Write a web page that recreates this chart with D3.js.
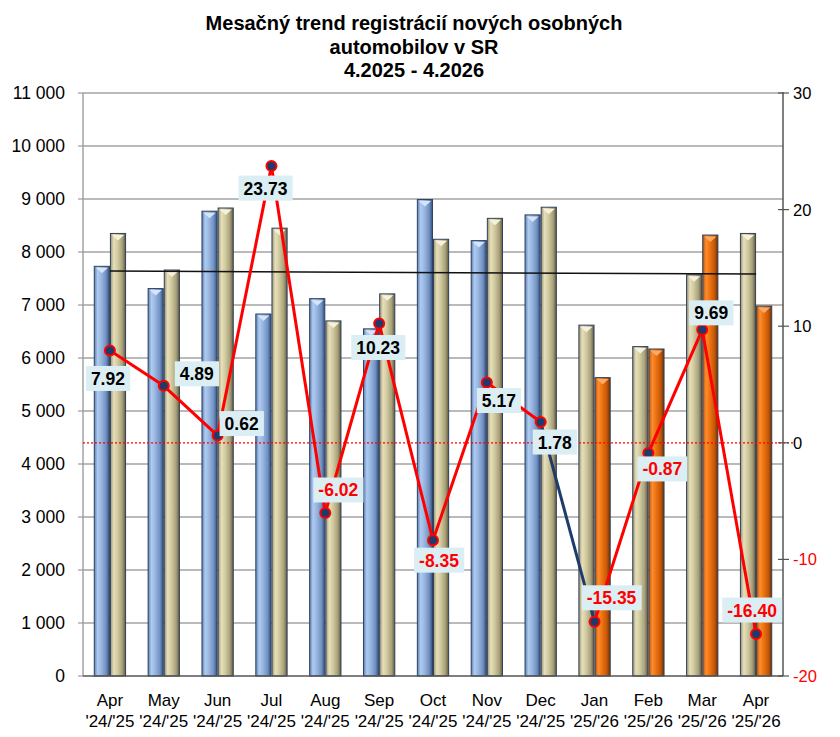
<!DOCTYPE html>
<html>
<head>
<meta charset="utf-8">
<script src="https://cdn.jsdelivr.net/npm/d3@7"></script>
<style>
  body { margin: 0; background: #fff; }
  text { font-family: Arial, "Liberation Sans", sans-serif; }
</style>
</head>
<body>
<svg id="chart" width="840" height="737"></svg>
<script>
// chart data
const months = ['Apr', 'May', 'Jun', 'Jul', 'Aug', 'Sep', 'Oct', 'Nov', 'Dec', 'Jan', 'Feb', 'Mar', 'Apr'];
const periods = ["'24/'25", "'24/'25", "'24/'25", "'24/'25", "'24/'25", "'24/'25", "'24/'25", "'24/'25", "'24/'25",
                 "'25/'26", "'25/'26", "'25/'26", "'25/'26"];
const prevYear = [7730, 7310, 8770, 6830, 7120, 6550, 8990, 8215, 8700, 6620, 6215, 7570, 8350];
const currYear = [8350, 7660, 8830, 8450, 6700, 7210, 8240, 8635, 8845, 5630, 6170, 8320, 6980];
const changePct = [7.92, 4.89, 0.62, 23.73, -6.02, 10.23, -8.35, 5.17, 1.78, -15.35, -0.87, 9.69, -16.40];
const trendEnds = [7640, 7585];

const leftTicks = d3.range(0, 11001, 1000);
const rightTicks = [30, 20, 10, 0, -10, -20];
const titleLines = ['Mesačný trend registrácií nových osobných', 'automobilov v SR', '4.2025 - 4.2026'];

// where each value label sits relative to its point (layout only)
const labelNudge = [[-2, 28], [33, -12], [24, -12], [-6, 22], [13, -23], [-1, 24], [6, 20],
                    [12, 18], [14, 20], [17, -24], [14, 16], [9, -17], [-4, -24]];

const barStyle = {
    blue:   { stops: ['#5f7fb2', '#aecbf2', '#9ab7e0', '#7091c2', '#34507c'], cap: '#d6e4f7' },
    beige:  { stops: ['#9a9370', '#e6dfba', '#d4cca2', '#a9a17a', '#625c3e'], cap: '#f5f1dc' },
    orange: { stops: ['#b85206', '#fc8e2e', '#ef7413', '#c45807', '#6e3000'], cap: '#fbab66' }
};
const periodColors = { "'24/'25": ['blue', 'beige'], "'25/'26": ['beige', 'orange'] };

const svg = d3.select('#chart');
const margin = { left: 83, right: 783, top: 93, bottom: 676 };

const x0 = d3.scaleBand()
    .domain(d3.range(months.length))
    .range([margin.left, margin.right])
    .paddingInner(0.4)
    .paddingOuter(0.2);
const x1 = d3.scaleBand()
    .domain([0, 1])
    .range([0, x0.bandwidth()]);
const y = d3.scaleLinear().domain([0, 11000]).range([margin.bottom, margin.top]);
const y2 = d3.scaleLinear().domain([-20, 30]).range([margin.bottom, margin.top]);
const cx = i => x0(i) + x0.bandwidth() / 2;

// gradients
const defs = svg.append('defs');
Object.entries(barStyle).forEach(([name, s]) => {
    const g = defs.append('linearGradient').attr('id', 'grad-' + name)
        .attr('x1', '0%').attr('x2', '100%').attr('y1', '0%').attr('y2', '0%');
    [0, 22, 45, 78, 100].forEach((off, k) => {
        g.append('stop').attr('offset', off + '%').attr('stop-color', s.stops[k]);
    });
});

// title
svg.append('g').selectAll('text')
    .data(titleLines)
    .enter()
    .append('text')
    .attr('x', 414)
    .attr('y', (d, i) => 30 + i * 23.5)
    .attr('text-anchor', 'middle')
    .style('font-size', '20px')
    .style('font-weight', 'bold')
    .text(d => d);

// gridlines
svg.append('g').selectAll('line')
    .data(leftTicks.slice(1))
    .enter()
    .append('line')
    .attr('x1', margin.left).attr('x2', margin.right)
    .attr('y1', d => y(d)).attr('y2', d => y(d))
    .attr('stroke', '#a3a3a3')
    .attr('stroke-width', 1.5);

// left frame + ticks + labels
svg.append('line')
    .attr('x1', margin.left).attr('x2', margin.left)
    .attr('y1', margin.top).attr('y2', margin.bottom)
    .attr('stroke', '#a3a3a3').attr('stroke-width', 1.5);

const fmt = v => d3.format(',')(v).replace(/,/g, ' ');
const leftAxis = svg.append('g');
leftAxis.selectAll('line')
    .data(leftTicks)
    .enter()
    .append('line')
    .attr('x1', margin.left - 5).attr('x2', margin.left)
    .attr('y1', d => y(d)).attr('y2', d => y(d))
    .attr('stroke', '#888');
leftAxis.selectAll('text')
    .data(leftTicks)
    .enter()
    .append('text')
    .attr('x', 65)
    .attr('y', d => y(d) + 6)
    .attr('text-anchor', 'end')
    .style('font-size', '17.5px')
    .text(fmt);

// bars
const groups = svg.append('g').selectAll('g')
    .data(months.map((m, i) => i))
    .enter()
    .append('g')
    .attr('transform', i => `translate(${x0(i)},0)`);

groups.each(function (i) {
    const g = d3.select(this);
    [prevYear[i], currYear[i]].forEach((v, k) => {
        const style = periodColors[periods[i]][k];
        const bx = x1(k), bw = x1.bandwidth(), top = y(v);
        g.append('rect')
            .attr('x', bx + 0.5)
            .attr('y', top)
            .attr('width', bw - 1)
            .attr('height', y(0) - top)
            .attr('fill', `url(#grad-${style})`)
            .attr('stroke', '#2f4260')
            .attr('stroke-width', 1);
        g.append('path')
            .attr('d', `M${bx + 2},${top + 1.5}L${bx + bw - 2},${top + 1.5}L${bx + bw / 2},${top + 7}Z`)
            .attr('fill', barStyle[style].cap);
    });
});

// bottom axis
svg.append('line')
    .attr('x1', margin.left).attr('x2', margin.right)
    .attr('y1', margin.bottom).attr('y2', margin.bottom)
    .attr('stroke', '#555').attr('stroke-width', 1.5);

// category labels
const xLab = svg.append('g').selectAll('text')
    .data(months.map((m, i) => i))
    .enter()
    .append('text')
    .attr('text-anchor', 'middle')
    .style('font-size', '17px');
xLab.append('tspan').attr('x', cx).attr('y', 706).text(i => months[i]);
xLab.append('tspan').attr('x', cx).attr('y', 727).text(i => periods[i]);

// trend line
svg.append('line')
    .attr('x1', cx(0)).attr('x2', cx(months.length - 1))
    .attr('y1', y(trendEnds[0])).attr('y2', y(trendEnds[1]))
    .attr('stroke', '#111').attr('stroke-width', 1.5);

// zero reference of right axis
svg.append('line')
    .attr('x1', margin.left).attr('x2', margin.right + 10)
    .attr('y1', y2(0)).attr('y2', y2(0))
    .attr('stroke', '#ff0000').attr('stroke-width', 1.3)
    .attr('stroke-dasharray', '2,2');

// right axis
const rightAxis = svg.append('g');
rightAxis.append('line')
    .attr('x1', margin.right).attr('x2', margin.right)
    .attr('y1', margin.top - 1).attr('y2', margin.bottom)
    .attr('stroke', '#555').attr('stroke-width', 1.5);
rightAxis.selectAll('line.tick')
    .data(rightTicks)
    .enter()
    .append('line')
    .attr('class', 'tick')
    .attr('x1', margin.right - 5).attr('x2', margin.right + 6)
    .attr('y1', d => y2(d)).attr('y2', d => y2(d))
    .attr('stroke', '#555').attr('stroke-width', 1.2);
rightAxis.selectAll('text')
    .data(rightTicks)
    .enter()
    .append('text')
    .attr('x', 793)
    .attr('y', d => y2(d) + 6)
    .attr('fill', d => d < 0 ? '#ff0000' : '#000')
    .style('font-size', '16.5px')
    .text(d => d);

// change line, segment by segment
const segs = d3.range(changePct.length - 1);
svg.append('g').selectAll('line')
    .data(segs)
    .enter()
    .append('line')
    .attr('x1', i => cx(i)).attr('x2', i => cx(i + 1))
    .attr('y1', i => y2(changePct[i])).attr('y2', i => y2(changePct[i + 1]))
    .attr('stroke', i => periods[i] !== periods[i + 1] ? '#1f3b6b' : '#ff0000')
    .attr('stroke-width', 3);

svg.append('g').selectAll('circle')
    .data(changePct)
    .enter()
    .append('circle')
    .attr('cx', (d, i) => cx(i))
    .attr('cy', d => y2(d))
    .attr('r', 5)
    .attr('fill', '#1f3b6b')
    .attr('stroke', '#ff0000')
    .attr('stroke-width', 2);

// value labels with light boxes
const labels = svg.append('g').selectAll('g')
    .data(changePct)
    .enter()
    .append('g')
    .attr('transform', (d, i) => `translate(${cx(i) + labelNudge[i][0]},${y2(d) + labelNudge[i][1]})`);
labels.each(function (d) {
    const g = d3.select(this);
    const t = g.append('text')
        .attr('text-anchor', 'middle')
        .attr('y', 6.5)
        .attr('fill', d < 0 ? '#ff0000' : '#000')
        .style('font-size', '17.5px')
        .style('font-weight', 'bold')
        .text(d.toFixed(2));
    const b = t.node().getBBox();
    g.insert('rect', 'text')
        .attr('x', b.x - 5)
        .attr('y', -12.5)
        .attr('width', b.width + 10)
        .attr('height', 25)
        .attr('fill', '#dbeef4');
});
</script>
</body>
</html>
